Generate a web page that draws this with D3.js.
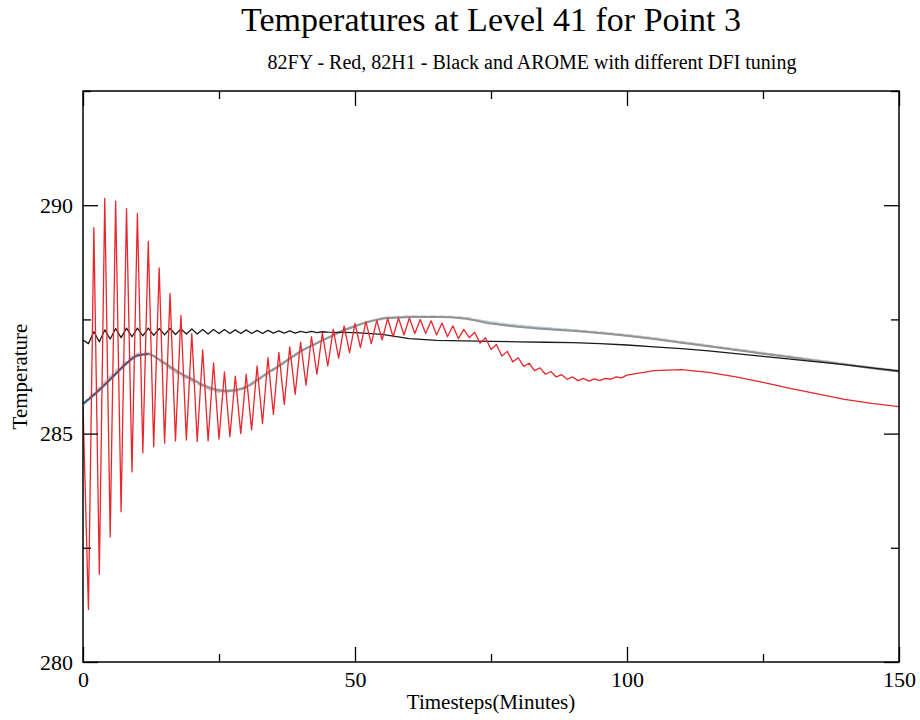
<!DOCTYPE html>
<html>
<head>
<meta charset="utf-8">
<script src="https://cdn.jsdelivr.net/npm/d3@7/dist/d3.min.js"></script>
<style>
  body { margin: 0; background: #fff; }
  text { font-family: "Liberation Serif", "DejaVu Serif", serif; fill: #000; }
</style>
</head>
<body>
<div id="chart"></div>
<script>
// ---- data ----
// 82FY (red): one value per minute up to 99, then every 5 minutes
var redTimes = d3.range(0, 100).concat(d3.range(100, 151, 5));
var redValues = [
  285.60, 281.15, 289.51, 281.92, 290.15, 282.74, 290.09, 283.29, 289.93, 284.16,
  289.82, 284.58, 289.21, 284.71, 288.63, 284.79, 288.07, 284.84, 287.59, 284.86,
  287.19, 284.83, 286.83, 284.84, 286.55, 284.88, 286.35, 284.93, 286.26, 285.00,
  286.30, 285.08, 286.48, 285.22, 286.66, 285.42, 286.78, 285.64, 286.90, 285.86,
  287.00, 286.06, 287.12, 286.30, 287.20, 286.48, 287.28, 286.65, 287.36, 286.77,
  287.41, 286.88, 287.45, 286.97, 287.48, 287.05, 287.52, 287.12, 287.53, 287.16,
  287.53, 287.19, 287.50, 287.19, 287.47, 287.16, 287.42, 287.12, 287.36, 287.08,
  287.28, 287.10, 287.22, 286.98, 287.10, 286.84, 286.95, 286.70, 286.80, 286.57,
  286.66, 286.47, 286.54, 286.38, 286.44, 286.30, 286.36, 286.24, 286.29, 286.19,
  286.24, 286.16, 286.21, 286.15, 286.20, 286.16, 286.21, 286.19, 286.24, 286.22,
  286.28, 286.38, 286.40, 286.34, 286.24, 286.12, 285.99, 285.87, 285.75, 285.66, 285.59
];

// 82H1 (black): one value per minute up to 45, then every 5 minutes
var blackTimes = d3.range(0, 46).concat(d3.range(50, 151, 5));
var blackValues = [
  287.05, 286.97, 287.23, 287.01, 287.27, 287.07, 287.30, 287.10, 287.31, 287.12,
  287.31, 287.14, 287.31, 287.15, 287.30, 287.16, 287.30, 287.17, 287.29, 287.18,
  287.29, 287.18, 287.28, 287.18, 287.28, 287.19, 287.28, 287.19, 287.27, 287.19,
  287.27, 287.19, 287.26, 287.19, 287.26, 287.20, 287.25, 287.20, 287.25, 287.20,
  287.24, 287.21, 287.24, 287.21, 287.23, 287.22,
  287.21, 287.17, 287.08, 287.04, 287.03, 287.02, 287.01, 287.00, 286.99, 286.97,
  286.94, 286.90, 286.86, 286.81, 286.75, 286.69, 286.63, 286.57, 286.51, 286.44, 286.37
];

// AROME runs with different DFI tuning (smooth curves)
var aromeTimes = d3.range(0, 60, 2).concat(d3.range(60, 151, 5));
var aromeGray = [
  285.65, 285.85, 286.07, 286.31, 286.54, 286.71, 286.74, 286.62, 286.46, 286.31,
  286.19, 286.06, 285.97, 285.93, 285.95, 286.02, 286.17, 286.33, 286.48, 286.64,
  286.80, 286.92, 287.04, 287.15, 287.26, 287.35, 287.43, 287.49, 287.53, 287.54,
  287.55, 287.55, 287.52, 287.41, 287.34, 287.29, 287.25, 287.20, 287.14, 287.07,
  286.99, 286.91, 286.83, 286.75, 286.67, 286.59, 286.51, 286.43, 286.36
];
var aromePink = [
  285.66, 285.90, 286.13, 286.37, 286.59, 286.75, 286.77, 286.60, 286.42, 286.27,
  286.15, 286.03, 285.94, 285.90, 285.93, 286.00, 286.15, 286.31, 286.47, 286.63,
  286.79, 286.92, 287.04, 287.16, 287.27, 287.36, 287.44, 287.50, 287.54, 287.56,
  287.57, 287.57, 287.54, 287.44, 287.37, 287.31, 287.27, 287.22, 287.16, 287.09,
  287.01, 286.93, 286.85, 286.77, 286.69, 286.61, 286.53, 286.45, 286.38
];
var aromeCyan = [
  285.64, 285.83, 286.05, 286.29, 286.52, 286.69, 286.73, 286.63, 286.48, 286.33,
  286.21, 286.08, 285.99, 285.95, 285.96, 286.03, 286.18, 286.34, 286.49, 286.65,
  286.81, 286.93, 287.05, 287.16, 287.27, 287.36, 287.44, 287.50, 287.54, 287.55,
  287.56, 287.56, 287.53, 287.43, 287.36, 287.31, 287.26, 287.21, 287.15, 287.08,
  287.00, 286.92, 286.84, 286.76, 286.68, 286.60, 286.52, 286.44, 286.37
];
// dark blue run only visible over the first minutes
var aromeBlueTimes = [0, 2, 4, 6, 8, 10, 12];
var aromeBlue = [285.65, 285.85, 286.07, 286.31, 286.54, 286.71, 286.74];

var xMajorTicks = [0, 50, 100, 150];
var xMinorTicks = [25, 75, 125];
var yMajorTicks = [280, 285, 290];
var yMinorTicks = [282.5, 287.5, 292.5];

// ---- layout ----
var margin = { top: 91, right: 21, bottom: 58, left: 83 };
var fullW = 920, fullH = 720;
var width = fullW - margin.left - margin.right;
var height = fullH - margin.top - margin.bottom;

var svgRoot = d3.select("#chart")
  .append("svg")
  .attr("width", fullW)
  .attr("height", fullH);

var svg = svgRoot.append("g")
  .attr("transform", "translate(" + margin.left + "," + margin.top + ")");

var x = d3.scaleLinear().domain([0, 150]).range([0, width]);
var y = d3.scaleLinear().domain([280, 292.5]).range([height, 0]);

// titles
svgRoot.append("text")
  .attr("x", margin.left + width / 2)
  .attr("y", 31)
  .attr("text-anchor", "middle")
  .style("font-size", "34px")
  .text("Temperatures at Level 41 for Point 3");

svgRoot.append("text")
  .attr("x", 532)
  .attr("y", 69)
  .attr("text-anchor", "middle")
  .style("font-size", "20px")
  .text("82FY - Red, 82H1 - Black and AROME with different DFI tuning");

// clip so the lines stay inside the frame
svg.append("clipPath").attr("id", "plotclip")
  .append("rect").attr("width", width).attr("height", height);

var plot = svg.append("g").attr("clip-path", "url(#plotclip)");

function drawLine(times, values, color, w, dash, curve) {
  var pts = times.map(function(t, i) { return [t, values[i]]; });
  plot.append("path")
    .datum(pts)
    .attr("fill", "none")
    .attr("stroke", color)
    .attr("stroke-width", w)
    .attr("stroke-dasharray", dash || null)
    .attr("stroke-linejoin", "round")
    .attr("d", d3.line()
      .curve(curve || d3.curveLinear)
      .x(function(d) { return x(d[0]); })
      .y(function(d) { return y(d[1]); }));
}

drawLine(aromeTimes, aromePink, "#f2b8c6", 2, "6,3", d3.curveMonotoneX);
drawLine(aromeTimes, aromeCyan, "#a9d8e2", 2, null, d3.curveMonotoneX);
drawLine(aromeTimes, aromeGray, "#929292", 2, null, d3.curveMonotoneX);
drawLine(aromeBlueTimes, aromeBlue, "#2f5f86", 1.8, null, d3.curveMonotoneX);
drawLine(blackTimes, blackValues, "#1a1a1a", 1.3);
drawLine(redTimes, redValues, "#e8262b", 1.3);

// frame
svg.append("rect")
  .attr("width", width)
  .attr("height", height)
  .attr("fill", "none")
  .attr("stroke", "#000")
  .attr("stroke-width", 1.5);

// axes with inward ticks on all four sides
svg.append("g").attr("transform", "translate(0," + height + ")")
  .call(d3.axisBottom(x).tickValues(xMajorTicks).tickSizeInner(-15).tickSizeOuter(0).tickPadding(9).tickFormat(d3.format("d")));
svg.append("g").attr("transform", "translate(0," + height + ")")
  .call(d3.axisBottom(x).tickValues(xMinorTicks).tickSizeInner(-8).tickSizeOuter(0).tickFormat(""));
svg.append("g")
  .call(d3.axisTop(x).tickValues(xMajorTicks).tickSizeInner(-15).tickSizeOuter(0).tickFormat(""));
svg.append("g")
  .call(d3.axisTop(x).tickValues(xMinorTicks).tickSizeInner(-8).tickSizeOuter(0).tickFormat(""));

svg.append("g")
  .call(d3.axisLeft(y).tickValues(yMajorTicks).tickSizeInner(-15).tickSizeOuter(0).tickPadding(10).tickFormat(d3.format("d")));
svg.append("g")
  .call(d3.axisLeft(y).tickValues(yMinorTicks).tickSizeInner(-8).tickSizeOuter(0).tickFormat(""));
svg.append("g").attr("transform", "translate(" + width + ",0)")
  .call(d3.axisRight(y).tickValues(yMajorTicks).tickSizeInner(-15).tickSizeOuter(0).tickFormat(""));
svg.append("g").attr("transform", "translate(" + width + ",0)")
  .call(d3.axisRight(y).tickValues(yMinorTicks).tickSizeInner(-8).tickSizeOuter(0).tickFormat(""));

svg.selectAll(".domain").remove();
svg.selectAll(".tick line").attr("stroke", "#000").attr("stroke-width", 1.3);
svg.selectAll(".tick text")
  .style("font-family", "'Liberation Serif', serif")
  .style("font-size", "22px")
  .attr("fill", "#000");

// axis labels
svgRoot.append("text")
  .attr("x", margin.left + width / 2)
  .attr("y", 709)
  .attr("text-anchor", "middle")
  .style("font-size", "21px")
  .text("Timesteps(Minutes)");

svgRoot.append("text")
  .attr("transform", "translate(27," + (margin.top + height / 2) + ") rotate(-90)")
  .attr("text-anchor", "middle")
  .style("font-size", "21px")
  .text("Temperature");
</script>
</body>
</html>
